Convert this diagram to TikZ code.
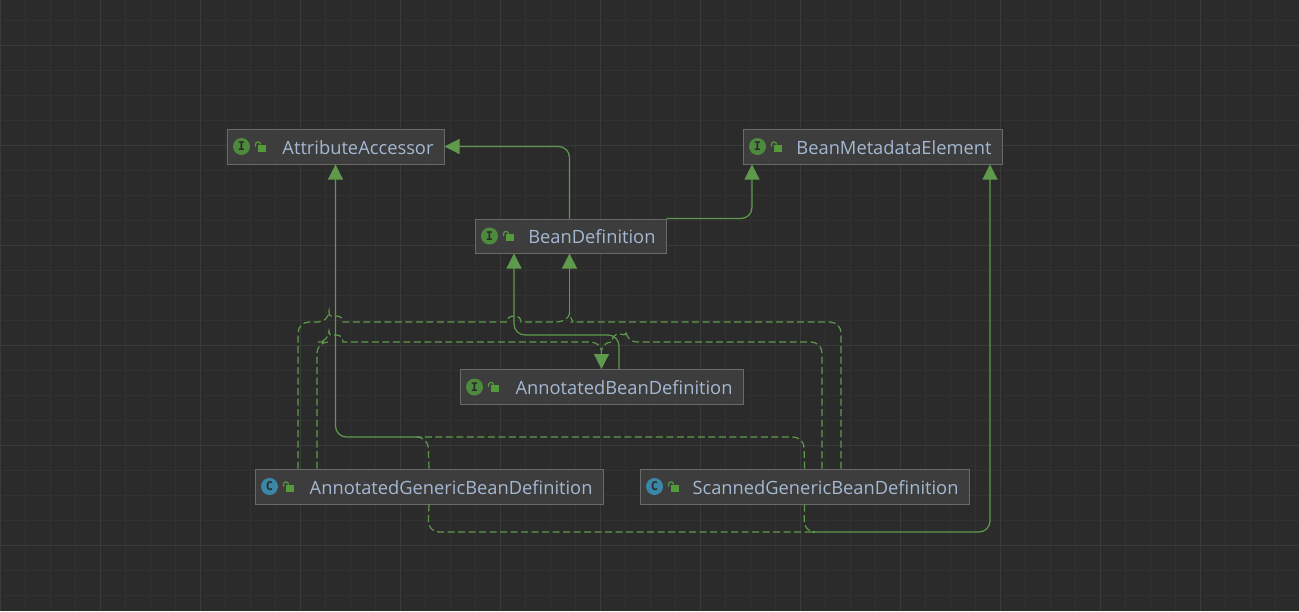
\documentclass[tikz,border=0pt]{standalone}
\usepackage{fontspec}
\setmainfont{Open Sans}
\newfontfamily\iconfont{DejaVu Sans Mono}
\usetikzlibrary{arrows.meta}
\definecolor{canvasbg}{HTML}{2B2B2B}
\definecolor{gridminor}{HTML}{323232}
\definecolor{gridmajor}{HTML}{3A3A3A}
\definecolor{boxfill}{HTML}{3D3D3D}
\definecolor{boxedge}{HTML}{6A6A6A}
\definecolor{boxtext}{HTML}{A5B8D2}
\definecolor{linkgreen}{HTML}{5F9A4C}
\definecolor{ifacegreen}{HTML}{4E8A3E}
\definecolor{classblue}{HTML}{3A87A8}
\definecolor{lockgreen}{HTML}{549A3C}
\tikzset{
    classbox/.style={draw=boxedge,fill=boxfill,line width=1pt,inner xsep=10.5pt,inner ysep=0pt,
        minimum height=35pt,align=right,text=boxtext,text height=15pt,text depth=0pt,
        font=\fontsize{18.3}{20}\selectfont},
    kindicon/.style={circle,inner sep=0pt,minimum size=17pt,text=canvasbg,font=\fontsize{12}{12}\iconfont\bfseries},
    extends/.style={draw=linkgreen,line width=1.2pt,rounded corners=11pt},
    implements/.style={extends,dash pattern=on 7pt off 3.5pt},
    tip/.style={extends,-{Triangle[length=15pt,width=15pt]}},
    lockicon/.pic={
        \fill[lockgreen] (3,-2) rectangle (11,5);
        \draw[lockgreen,line width=1.2pt] (1,0) -- (1,-2) .. controls (1,-5.5) and (6,-5.5) .. (6,-2);
    }
}
\begin{document}
\begin{tikzpicture}[x=1pt,y=-1pt]
    \useasboundingbox (0,0) rectangle (1299,611);
    \fill[canvasbg] (0,0) rectangle (1299,611);
    % grid
    \foreach \gx in {0,25,...,1299} \draw[gridminor,line width=1pt] (\gx,0) -- (\gx,611);
    \foreach \gy in {20,45,...,611} \draw[gridminor,line width=1pt] (0,\gy) -- (1299,\gy);
    \foreach \gx in {0,100,...,1299} \draw[gridmajor,line width=1pt] (\gx,0) -- (\gx,611);
    \foreach \gy in {45,145,...,611} \draw[gridmajor,line width=1pt] (0,\gy) -- (1299,\gy);
    % boxes
    \draw (335.5,146.5) node[classbox,text width=196pt] (accessor) {AttributeAccessor};
    \draw (872.5,146.5) node[classbox,text width=238pt] (metadata) {BeanMetadataElement};
    \draw (570.5,236) node[classbox,minimum height=34pt,text width=170pt] (definition) {BeanDefinition};
    \draw (601.5,387) node[classbox,text width=262pt] (annotated) {AnnotatedBeanDefinition};
    \draw (429,486.5) node[classbox,text width=327pt] (generic) {AnnotatedGenericBeanDefinition};
    \draw (804.5,486.5) node[classbox,text width=308pt] (scanned) {ScannedGenericBeanDefinition};
    % icons
    \foreach \nm/\letter/\col in {accessor/I/ifacegreen,metadata/I/ifacegreen,definition/I/ifacegreen,
        annotated/I/ifacegreen,generic/C/classblue,scanned/C/classblue} {
        \node[kindicon,fill=\col] (icon\nm) at ([xshift=15pt]\nm.west) {\letter};
        \draw[boxfill!88!canvasbg,line width=1pt] ([xshift=47pt,yshift=-1pt]\nm.north west) -- ([xshift=47pt,yshift=1pt]\nm.south west);
        \draw ([xshift=28pt]\nm.west) pic {lockicon};
    }
    % joins
    \coordinate (upperjoin) at (420,437);
    \coordinate (lowerjoin) at (812,532);
    \coordinate (leftfork) at (569.5,312);
    \coordinate (rightfork) at (601.5,351);
    % solid links
    \draw[tip] ([xshift=-1pt]definition.north) |- (accessor.east);
    \draw[tip] (definition.north east) -| ([xshift=-120.5pt]metadata.south);
    \draw[tip] (upperjoin) -| (accessor.south);
    \draw[tip] (lowerjoin) -| ([xshift=117.5pt]metadata.south);
    \draw[tip] ([xshift=17.5pt]annotated.north) -- (619,335) -- (514,335) -- ([xshift=-56.5pt]definition.south);
    \draw[tip] (leftfork) -- ([xshift=-1pt]definition.south);
    \draw[tip] (rightfork) -- (annotated.north);
    % dashed links
    \draw[implements] ([xshift=-131pt]generic.north) -- (298,322) -- (329,322) [sharp corners]
        .. controls (329,318) and (332,316) .. (336,316) .. controls (340,316) and (343,318) .. (343,322)
        -- (507,322) .. controls (507,318) and (510,316) .. (514,316) .. controls (518,316) and (521,318) .. (521,322)
        -- (555,322) .. controls (563,322) and (569.5,319) .. (leftfork);
    \draw[implements] ([xshift=36.5pt]scanned.north) -- (841,322) -- (583,322) [sharp corners] .. controls (575,322) and (569.5,319) .. (leftfork);
    \draw[implements] ([xshift=-112pt]generic.north) -- (317,342) -- (329,342) [sharp corners]
        .. controls (329,337) and (332,335) .. (336,335) .. controls (340,335) and (343,337) .. (343,342)
        -- (590,342) .. controls (596,342) and (601.5,346) .. (rightfork);
    \draw[implements] ([xshift=17.5pt]scanned.north) -- (822,342) -- (626,342) [sharp corners]
        .. controls (626,337) and (623,334) .. (619,334) .. controls (615,334) and (612,337) .. (612,342)
        .. controls (606,342) and (601.5,346) .. (rightfork);
    \draw[implements] (generic.north) -- (428,437) -- (upperjoin);
    \draw[implements] (scanned.north) -- (804,437) -- (upperjoin);
    \draw[implements] (generic.south) -- (428,532) -- (lowerjoin);
    \draw[implements] (scanned.south) -- (804,532) -- (lowerjoin);
\end{tikzpicture}
\end{document}
